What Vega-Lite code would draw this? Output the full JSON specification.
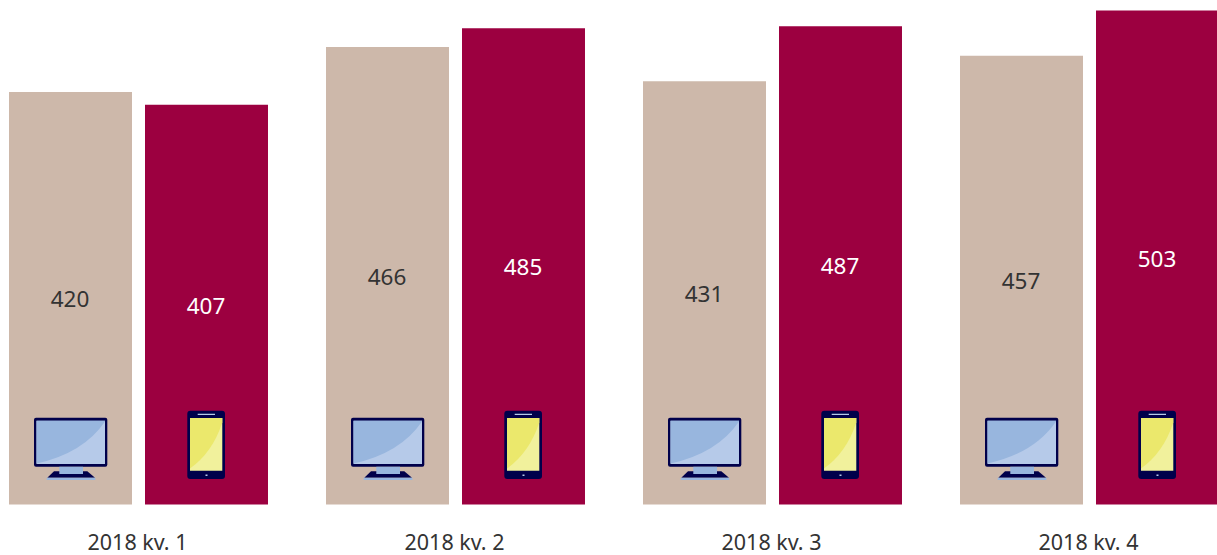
{
"$schema":"https://vega.github.io/schema/vega-lite/v6.json",
"width":1217,"height":504.5,"padding":{"left":0,"top":0,"right":0,"bottom":50.5},"autosize":{"type":"none"},
"background":"white",
"config":{"view":{"stroke":null}},
"data":{"values":[
{"quarter":"2018 kv. 1","device":"Dator","value":420},
{"quarter":"2018 kv. 1","device":"Mobil","value":407},
{"quarter":"2018 kv. 2","device":"Dator","value":466},
{"quarter":"2018 kv. 2","device":"Mobil","value":485},
{"quarter":"2018 kv. 3","device":"Dator","value":431},
{"quarter":"2018 kv. 3","device":"Mobil","value":487},
{"quarter":"2018 kv. 4","device":"Dator","value":457},
{"quarter":"2018 kv. 4","device":"Mobil","value":503}
]},
"encoding":{
"x":{"field":"quarter","type":"nominal","title":null,"scale":{"range":[-20,1248],"paddingInner":0.183,"paddingOuter":0.0915},
"axis":{"domain":false,"ticks":false,"labelAngle":0,"labelPadding":28,"labelFontSize":21.5,"labelFont":"Noto Sans","labelColor":"#333333","labelOffset":-1,"grid":false}},
"xOffset":{"field":"device","type":"nominal","scale":{"domain":["Dator","Mobil"],"paddingInner":0.0956,"paddingOuter":0}}
},
"resolve":{"scale":{"y":"independent"}},
"layer":[
{"mark":{"type":"bar"},
 "encoding":{"y":{"field":"value","type":"quantitative","axis":null,"scale":{"domain":[0,513.8]}},
 "color":{"field":"device","type":"nominal","legend":null,"scale":{"domain":["Dator","Mobil"],"range":["#cdb8aa","#9c0040"]}}}},
{"mark":{"type":"text","font":"Noto Sans","fontSize":22.5,"baseline":"middle","dy":2,"dx":-0.5},
 "encoding":{"y":{"field":"value","type":"quantitative","axis":null,"scale":{"domain":[0,1027.6]}},
 "text":{"field":"value","type":"quantitative"},
 "color":{"condition":{"test":"datum.device==='Mobil'","value":"#ffffff"},"value":"#333333"}}},

{"transform":[{"filter":"datum.device==='Dator'"}],"mark":{"type":"point","filled":true,"opacity":1,"strokeWidth":0,"size":4,"fill":"#00004b","shape":"M-34.5,-86.8H34.8Q36.8,-86.8 36.8,-84.8V-39.8Q36.8,-37.8 34.8,-37.8H-34.5Q-36.5,-37.8 -36.5,-39.8V-84.8Q-36.5,-86.8 -34.5,-86.8Z"},
 "encoding":{"y":{"datum":0,"type":"quantitative","axis":null,"scale":{"domain":[0,513.8]}}}},
{"transform":[{"filter":"datum.device==='Dator'"}],"mark":{"type":"point","filled":true,"opacity":1,"strokeWidth":0,"size":4,"fill":"#b6cae9","shape":"M-34,-83.8H34.5V-40.5H-34Z"},
 "encoding":{"y":{"datum":0,"type":"quantitative","axis":null,"scale":{"domain":[0,513.8]}}}},
{"transform":[{"filter":"datum.device==='Dator'"}],"mark":{"type":"point","filled":true,"opacity":1,"strokeWidth":0,"size":4,"fill":"#98b6de","shape":"M-34,-83.8H34.5V-83Q12.8,-51.2 -34,-41Z"},
 "encoding":{"y":{"datum":0,"type":"quantitative","axis":null,"scale":{"domain":[0,513.8]}}}},
{"transform":[{"filter":"datum.device==='Dator'"}],"mark":{"type":"point","filled":true,"opacity":1,"strokeWidth":0,"size":4,"fill":"#00004b","shape":"M-16.5,-33.2H16.8L24.5,-26.8H-23.2Z"},
 "encoding":{"y":{"datum":0,"type":"quantitative","axis":null,"scale":{"domain":[0,513.8]}}}},
{"transform":[{"filter":"datum.device==='Dator'"}],"mark":{"type":"point","filled":true,"opacity":1,"strokeWidth":0,"size":4,"fill":"#98b6de","shape":"M-11.2,-37.8H12.5V-30.5H-11.2ZM-23.8,-26.8H24.8V-24.5H-23.8Z"},
 "encoding":{"y":{"datum":0,"type":"quantitative","axis":null,"scale":{"domain":[0,513.8]}}}},

{"transform":[{"filter":"datum.device==='Mobil'"}],"mark":{"type":"point","filled":true,"opacity":1,"strokeWidth":0,"size":4,"fill":"#00004b","shape":"M-16.2,-93.8H15.5Q18.5,-93.8 18.5,-90.8V-28.5Q18.5,-25.5 15.5,-25.5H-16.2Q-19.2,-25.5 -19.2,-28.5V-90.8Q-19.2,-93.8 -16.2,-93.8Z"},
 "encoding":{"y":{"datum":0,"type":"quantitative","axis":null,"scale":{"domain":[0,513.8]}}}},
{"transform":[{"filter":"datum.device==='Mobil'"}],"mark":{"type":"point","filled":true,"opacity":1,"strokeWidth":0,"size":4,"fill":"#f1f19c","shape":"M-16.5,-86.5H15.8V-33.8H-16.5Z"},
 "encoding":{"y":{"datum":0,"type":"quantitative","axis":null,"scale":{"domain":[0,513.8]}}}},
{"transform":[{"filter":"datum.device==='Mobil'"}],"mark":{"type":"point","filled":true,"opacity":1,"strokeWidth":0,"size":4,"fill":"#ebe86c","shape":"M-16.5,-86.5H15.8V-82Q6,-52 -16.5,-36Z"},
 "encoding":{"y":{"datum":0,"type":"quantitative","axis":null,"scale":{"domain":[0,513.8]}}}},
{"transform":[{"filter":"datum.device==='Mobil'"}],"mark":{"type":"point","filled":true,"opacity":1,"strokeWidth":0,"size":4,"fill":"#b6cae9","shape":"M-8.8,-90.8H8.5V-89.5H-8.8ZM-1,-30H1V-28.5H-1Z"},
 "encoding":{"y":{"datum":0,"type":"quantitative","axis":null,"scale":{"domain":[0,513.8]}}}}
]
}
